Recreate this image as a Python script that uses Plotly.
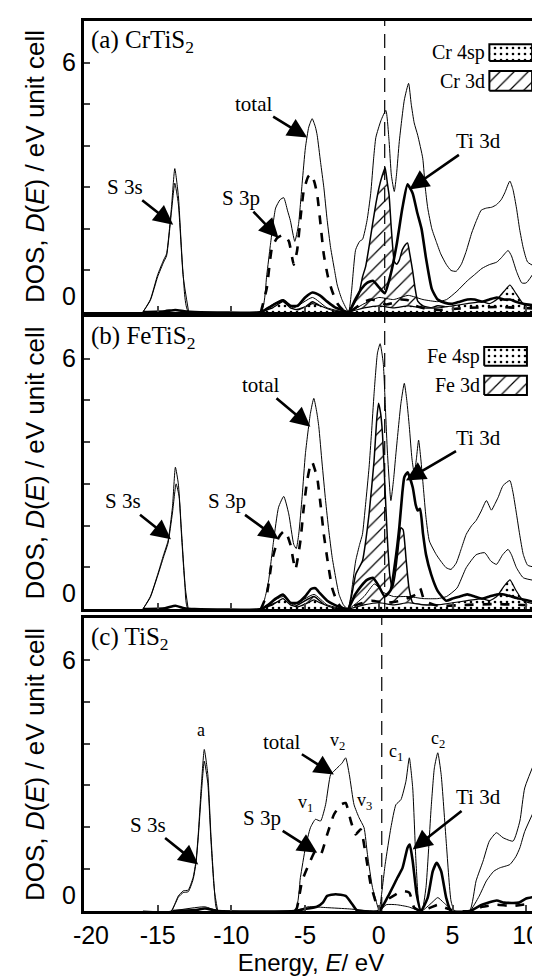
import plotly.graph_objects as go
from plotly.subplots import make_subplots

# ---------------- data (energy in eV, DOS in states / eV unit cell) ----------------
X_RANGE = [-20, 10.8]
Y_RANGE = [0, 7]
X_TICKS = [-20, -15, -10, -5, 0, 5, 10]
X_TICK_TEXT = ["&nbsp;&nbsp;-20", "-15", "-10", "-5", "0", "5", "10"]
Y_TICKS = [0, 1, 2, 3, 4, 5, 6]
Y_TICK_TEXT = ["0<br> ", "", "", "", "", "", "6"]
E_FERMI = [0.4, 0.4, 0.2]
PANEL_TITLES = ["(a) CrTiS<sub>2</sub>", "(b) FeTiS<sub>2</sub>", "(c) TiS<sub>2</sub>"]
METALS = ["Cr", "Fe", None]

# ---- (a) CrTiS2 ----
a_total = [(-16.0, 0), (-15.5, 0.3), (-15.0, 0.9), (-14.6, 1.25), (-14.4, 1.4), (-14.07, 2.5), (-13.84, 3.45),
           (-13.6, 2.8), (-13.27, 0.9), (-12.9, 0), (-8.0, 0), (-7.6, 0.9), (-7.36, 1.6), (-7.0, 2.5), (-6.7, 2.7),
           (-6.45, 2.75), (-6.2, 2.45), (-6.0, 2.2), (-5.7, 1.7), (-5.45, 2.1), (-5.2, 3.1), (-4.98, 3.95),
           (-4.75, 4.45), (-4.52, 4.65), (-4.3, 4.45), (-4.18, 4.25), (-3.95, 3.6), (-3.73, 3.0), (-3.5, 2.2),
           (-3.27, 1.55), (-3.0, 1.0), (-2.82, 0.65), (-2.5, 0.3), (-2.05, 0), (-1.85, 0.5), (-1.57, 1.5),
           (-1.3, 1.7), (-1.1, 1.75), (-0.8, 2.2), (-0.55, 2.85), (-0.35, 3.7), (-0.2, 4.2), (0.14, 4.6),
           (0.48, 4.85), (0.7, 4.1), (0.85, 3.3), (1.05, 2.9), (1.2, 3.3), (1.39, 4.1), (1.73, 5.1), (2.02, 5.5),
           (2.2, 5.0), (2.4, 4.55), (2.64, 4.25), (2.98, 3.7), (3.15, 3.0), (3.32, 2.5), (3.6, 2.0), (3.89, 1.7),
           (4.2, 1.4), (4.57, 1.15), (4.9, 1.0), (5.25, 0.98), (5.6, 1.15), (5.93, 1.46), (6.3, 1.9), (6.6, 2.18),
           (6.95, 2.45), (7.3, 2.5), (7.65, 2.52), (7.98, 2.58), (8.3, 2.7), (8.55, 2.87), (8.89, 3.15),
           (9.1, 2.95), (9.34, 2.5), (9.55, 2.0), (9.8, 1.54), (10.1, 1.2), (10.8, 1.06)]
a_s3s = [(-16.0, 0), (-15.5, 0.28), (-15.0, 0.85), (-14.6, 1.2), (-14.4, 1.35), (-14.07, 2.4), (-13.84, 3.1),
         (-13.6, 2.6), (-13.27, 0.85), (-12.9, 0)]
a_s3p = [(-8.0, 0), (-7.6, 0.58), (-7.25, 1.54), (-6.9, 1.78), (-6.45, 1.86), (-6.1, 1.7), (-5.77, 1.14),
         (-5.55, 1.46), (-5.3, 2.3), (-5.1, 2.9), (-4.8, 3.25), (-4.57, 3.32), (-4.35, 3.1), (-4.18, 2.83),
         (-3.95, 2.1), (-3.73, 1.38), (-3.45, 0.85), (-3.16, 0.5), (-2.8, 0.2), (-2.4, 0.04), (-2.05, 0),
         (-1.5, 0.12), (-1.0, 0.25), (-0.5, 0.3), (0.0, 0.25), (0.5, 0.18), (1.0, 0.22), (1.5, 0.3), (2.0, 0.28),
         (2.5, 0.15), (3.0, 0.1), (4.0, 0.05), (6.0, 0.1), (8.0, 0.12), (10.8, 0.08)]
a_ti3d = [(-16.0, 0), (-14.5, 0.02), (-13.8, 0.05), (-13.2, 0.02), (-12.5, 0), (-8.0, 0), (-7.5, 0.1), (-7.0, 0.2),
          (-6.5, 0.28), (-6.0, 0.15), (-5.5, 0.15), (-5.0, 0.35), (-4.5, 0.47), (-4.0, 0.4), (-3.5, 0.25),
          (-3.0, 0.12), (-2.5, 0.05), (-2.05, 0), (-1.6, 0.3), (-1.2, 0.55), (-0.8, 0.7), (-0.4, 0.75), (0.0, 0.6),
          (0.4, 0.45), (0.8, 0.9), (1.2, 1.6), (1.6, 2.5), (1.95, 3.07), (2.3, 2.85), (2.6, 2.4), (2.9, 2.0),
          (3.2, 1.3), (3.6, 0.55), (4.0, 0.3), (4.5, 0.22), (5.0, 0.2), (5.5, 0.25), (6.0, 0.3), (6.5, 0.3),
          (7.0, 0.25), (7.5, 0.3), (8.0, 0.35), (8.5, 0.3), (8.9, 0.3), (9.3, 0.25), (9.8, 0.2), (10.8, 0.15)]
a_m3d = [(-8.0, 0), (-7.2, 0.08), (-6.5, 0.2), (-5.8, 0.05), (-5.0, 0.12), (-4.5, 0.25), (-3.5, 0.05), (-2.05, 0),
         (-1.6, 0.25), (-1.34, 0.45), (-1.1, 0.85), (-0.89, 1.1), (-0.65, 1.6), (-0.43, 2.1), (-0.2, 2.6),
         (0.02, 3.0), (0.25, 3.3), (0.43, 3.47), (0.58, 3.1), (0.7, 2.8), (0.85, 2.0), (1.05, 1.22), (1.2, 1.15),
         (1.39, 1.25), (1.6, 1.5), (1.8, 1.62), (1.95, 1.66), (2.1, 1.4), (2.3, 0.98), (2.45, 0.6), (2.64, 0.26),
         (3.0, 0.15), (3.5, 0.1), (4.0, 0.15), (5.0, 0.1), (6.0, 0.15), (7.0, 0.2), (8.0, 0.15), (9.0, 0.15),
         (10.8, 0.1)]
a_m4sp = [(-8.0, 0), (-7.2, 0.1), (-6.5, 0.25), (-6.0, 0.1), (-5.5, 0.05), (-4.8, 0.15), (-4.5, 0.2), (-4.0, 0.15),
          (-3.0, 0.02), (-2.05, 0), (-1.0, 0.1), (0.0, 0.15), (1.0, 0.1), (2.0, 0.15), (3.0, 0.1), (4.0, 0.1),
          (5.0, 0.15), (6.0, 0.2), (7.0, 0.25), (7.5, 0.2), (8.0, 0.3), (8.5, 0.5), (8.9, 0.65), (9.3, 0.45),
          (9.8, 0.2), (10.8, 0.1)]
a_other = [(-8.0, 0), (-6.5, 0.3), (-5.8, 0.1), (-4.5, 0.35), (-3.5, 0.1), (-2.05, 0), (-1.0, 0.2), (0.0, 0.35),
           (1.0, 0.3), (2.0, 0.4), (3.0, 0.3), (4.0, 0.25), (4.6, 0.3), (5.3, 0.5), (6.0, 0.75), (6.5, 0.9),
           (7.0, 1.05), (7.5, 1.14), (8.0, 1.2), (8.3, 1.3), (8.77, 1.48), (9.0, 1.35), (9.34, 0.98), (9.7, 0.7),
           (10.0, 0.7), (10.8, 1.1)]

# ---- (b) FeTiS2 ----
b_total = [(-16.0, 0), (-15.5, 0.3), (-15.0, 0.83), (-14.6, 1.3), (-14.3, 1.63), (-14.0, 2.44), (-13.8, 3.4),
           (-13.6, 3.0), (-13.4, 1.95), (-13.16, 0.67), (-12.93, 0), (-8.0, 0), (-7.7, 0.3), (-7.48, 0.67),
           (-7.14, 1.63), (-6.8, 2.44), (-6.45, 2.7), (-6.11, 2.28), (-5.77, 1.55), (-5.6, 1.45), (-5.43, 1.8),
           (-5.2, 2.7), (-4.98, 3.72), (-4.64, 4.69), (-4.41, 5.05), (-4.2, 4.7), (-4.07, 4.37), (-3.85, 3.5),
           (-3.61, 2.6), (-3.4, 1.9), (-3.16, 1.23), (-2.9, 0.7), (-2.7, 0.35), (-2.4, 0.1), (-2.1, 0),
           (-1.9, 0.3), (-1.57, 1.15), (-1.3, 1.55), (-1.11, 1.79), (-0.9, 2.5), (-0.66, 3.4), (-0.5, 4.2),
           (-0.32, 5.17), (-0.09, 6.14), (0.09, 6.36), (0.3, 5.9), (0.45, 4.8), (0.59, 3.72), (0.82, 2.6),
           (1.0, 3.1), (1.16, 3.72), (1.5, 4.93), (1.73, 5.41), (1.9, 5.0), (2.07, 4.37), (2.25, 3.6), (2.41, 3.24),
           (2.55, 3.6), (2.7, 4.05), (2.85, 3.6), (3.02, 2.92), (3.2, 2.2), (3.43, 1.63), (3.89, 1.31), (4.2, 1.15),
           (4.57, 0.99), (4.9, 0.95), (5.25, 1.1), (5.6, 1.45), (5.93, 1.79), (6.3, 2.0), (6.6, 2.12), (6.95, 2.35),
           (7.3, 2.6), (7.64, 2.37), (7.85, 2.5), (8.1, 2.68), (8.43, 2.96), (8.89, 3.08), (9.1, 2.8), (9.34, 2.28),
           (9.55, 1.8), (9.8, 1.31), (10.1, 1.05), (10.8, 0.99)]
b_s3s = [(-16.0, 0), (-15.5, 0.28), (-15.0, 0.8), (-14.6, 1.25), (-14.3, 1.58), (-14.0, 2.3), (-13.75, 3.0),
         (-13.55, 2.7), (-13.4, 1.85), (-13.16, 0.6), (-12.93, 0)]
b_s3p = [(-8.0, 0), (-7.6, 0.35), (-7.25, 1.15), (-6.8, 1.71), (-6.5, 1.85), (-6.34, 1.87), (-6.0, 1.55),
         (-5.66, 0.95), (-5.32, 1.63), (-5.1, 2.4), (-4.86, 3.08), (-4.6, 3.5), (-4.52, 3.52), (-4.3, 3.3),
         (-4.18, 3.16), (-3.95, 2.5), (-3.73, 1.79), (-3.45, 1.1), (-3.16, 0.5), (-2.8, 0.15), (-2.48, 0.02),
         (-2.1, 0), (-1.5, 0.1), (-0.5, 0.2), (0.5, 0.15), (1.5, 0.2), (2.5, 0.35), (2.8, 0.5), (3.1, 0.2),
         (4.0, 0.08), (6.0, 0.1), (8.0, 0.12), (10.8, 0.08)]
b_ti3d = [(-16.0, 0), (-14.5, 0.02), (-13.8, 0.08), (-13.2, 0.02), (-12.5, 0), (-8.0, 0), (-7.5, 0.1), (-7.0, 0.25),
          (-6.5, 0.35), (-6.0, 0.15), (-5.5, 0.15), (-5.0, 0.3), (-4.6, 0.48), (-4.3, 0.5), (-4.0, 0.38),
          (-3.5, 0.2), (-3.0, 0.1), (-2.5, 0.03), (-2.1, 0), (-1.6, 0.35), (-1.2, 0.55), (-0.8, 0.7), (-0.4, 0.75),
          (0.0, 0.55), (0.4, 0.3), (0.8, 0.45), (1.1, 1.1), (1.39, 1.95), (1.6, 2.8), (1.73, 3.16), (1.95, 3.28),
          (2.3, 2.92), (2.5, 2.5), (2.64, 2.36), (2.8, 2.4), (3.0, 1.8), (3.2, 1.31), (3.55, 0.83), (4.0, 0.43),
          (4.57, 0.2), (5.0, 0.25), (5.5, 0.3), (6.0, 0.35), (6.5, 0.3), (7.0, 0.25), (7.5, 0.3), (8.0, 0.35),
          (8.5, 0.35), (9.0, 0.3), (9.5, 0.25), (10.8, 0.15)]
b_m3d = [(-8.0, 0), (-6.5, 0.2), (-5.8, 0.05), (-4.4, 0.3), (-3.5, 0.05), (-2.1, 0), (-1.8, 0.4), (-1.57, 0.83),
         (-1.11, 1.15), (-0.9, 1.6), (-0.66, 2.28), (-0.32, 3.56), (-0.15, 4.5), (-0.02, 4.93), (0.12, 4.7),
         (0.25, 4.2), (0.42, 2.9), (0.59, 1.63), (0.75, 0.8), (0.93, 0.5), (1.1, 0.8), (1.3, 1.4), (1.5, 1.95),
         (1.65, 1.9), (1.85, 1.2), (2.05, 0.5), (2.3, 0.15), (3.0, 0.1), (4.0, 0.1), (5.0, 0.12), (6.0, 0.15),
         (7.0, 0.15), (8.0, 0.12), (9.0, 0.15), (10.8, 0.1)]
b_m4sp = [(-8.0, 0), (-7.2, 0.1), (-6.5, 0.25), (-6.0, 0.1), (-5.5, 0.05), (-4.8, 0.15), (-4.4, 0.22), (-4.0, 0.15),
          (-3.0, 0.02), (-2.1, 0), (-1.0, 0.1), (0.0, 0.15), (1.0, 0.1), (2.0, 0.15), (3.0, 0.1), (4.0, 0.1),
          (5.0, 0.15), (6.0, 0.2), (7.0, 0.25), (7.5, 0.2), (8.0, 0.3), (8.5, 0.55), (8.9, 0.7), (9.3, 0.45),
          (9.8, 0.2), (10.8, 0.1)]
b_other = [(-8.0, 0), (-6.5, 0.3), (-5.8, 0.1), (-4.4, 0.35), (-3.5, 0.1), (-2.1, 0), (-1.0, 0.3), (-0.3, 0.6),
           (0.3, 0.4), (1.0, 0.3), (2.0, 0.3), (3.0, 0.25), (4.0, 0.25), (4.6, 0.3), (5.3, 0.5), (5.93, 0.99),
           (6.6, 1.3), (7.18, 1.35), (7.6, 1.15), (7.98, 1.07), (8.4, 1.3), (8.77, 1.43), (9.0, 1.3), (9.34, 0.99),
           (9.8, 0.75), (10.8, 0.67)]

# ---- (c) TiS2 ----
c_total = [(-16.0, 0), (-14.07, 0), (-13.8, 0.2), (-13.6, 0.36), (-13.27, 0.48), (-12.93, 0.5), (-12.6, 0.8),
           (-12.4, 1.2), (-12.25, 1.83), (-12.02, 3.1), (-11.84, 3.86), (-11.6, 3.26), (-11.39, 1.83),
           (-11.16, 0.56), (-10.93, 0), (-5.7, 0), (-5.32, 0.8), (-4.98, 1.51), (-4.64, 1.99), (-4.3, 2.19),
           (-3.95, 2.15), (-3.61, 2.54), (-3.27, 3.26), (-3.05, 3.34), (-2.7, 3.46), (-2.48, 3.54), (-2.25, 3.66),
           (-2.0, 3.26), (-1.68, 2.54), (-1.34, 2.23), (-1.0, 1.99), (-0.77, 1.35), (-0.43, 0.56), (-0.09, 0.12),
           (0.02, 0), (0.43, 1.11), (0.82, 1.99), (1.16, 2.54), (1.5, 2.66), (1.84, 3.1), (2.07, 3.66), (2.3, 2.94),
           (2.52, 1.19), (2.75, 0.08), (2.93, 0), (3.2, 0.56), (3.55, 2.46), (3.77, 3.42), (4.0, 3.78), (4.23, 3.26),
           (4.57, 1.67), (4.9, 0.24), (5.14, 0), (6.16, 0), (6.6, 0.72), (7.07, 1.19), (7.5, 1.67), (7.98, 1.87),
           (8.43, 1.75), (9.11, 1.67), (9.57, 2.15), (9.9, 2.94), (10.8, 3.75)]
c_s3s = [(-14.07, 0), (-13.8, 0.18), (-13.6, 0.33), (-13.27, 0.44), (-12.93, 0.46), (-12.6, 0.75), (-12.4, 1.15),
         (-12.25, 1.75), (-12.02, 2.9), (-11.84, 3.58), (-11.6, 3.05), (-11.39, 1.7), (-11.16, 0.5), (-10.93, 0)]
c_s3p = [(-5.7, 0), (-5.55, 0.08), (-5.2, 0.72), (-4.75, 1.11), (-4.3, 1.43), (-3.95, 1.35), (-3.5, 1.83),
         (-3.05, 2.3), (-2.59, 2.54), (-2.25, 2.58), (-1.9, 2.15), (-1.57, 1.83), (-1.23, 1.95), (-0.89, 1.35),
         (-0.55, 0.64), (-0.09, 0.08), (0.02, 0), (0.5, 0.25), (1.16, 0.4), (1.6, 0.48), (2.07, 0.44), (2.4, 0.08),
         (2.9, 0), (3.5, 0.08), (4.0, 0.15), (4.5, 0.08), (5.1, 0), (6.2, 0), (7.0, 0.1), (8.0, 0.15), (9.0, 0.12),
         (10.8, 0.2)]
c_ti3d = [(-14.0, 0), (-12.5, 0.02), (-11.8, 0.06), (-11.2, 0.02), (-10.9, 0), (-5.7, 0), (-5.0, 0.05), (-4.2, 0.1),
          (-3.8, 0.2), (-3.5, 0.36), (-2.93, 0.4), (-2.25, 0.36), (-1.8, 0.16), (-1.5, 0.02), (0.02, 0), (0.7, 0.4),
          (1.27, 0.8), (1.61, 1.03), (1.95, 1.51), (2.1, 1.59), (2.3, 1.19), (2.57, 0.4), (2.86, 0), (3.32, 0.32),
          (3.66, 0.95), (3.93, 1.15), (4.23, 0.95), (4.57, 0.32), (4.9, 0), (6.2, 0), (7.0, 0.15), (8.0, 0.25),
          (8.5, 0.2), (9.5, 0.2), (10.0, 0.3), (10.8, 0.35)]
c_other = [(-14.0, 0), (-11.8, 0.1), (-10.9, 0), (-5.7, 0), (-4.8, 0.1), (-3.5, 0.08), (-2.0, 0.05), (0.02, 0),
           (0.5, 0.15), (1.2, 0.15), (2.0, 0.1), (2.9, 0), (3.6, 0.2), (4.0, 0.32), (4.4, 0.2), (5.1, 0), (6.16, 0),
           (6.8, 0.35), (7.3, 0.72), (7.8, 0.95), (8.2, 1.03), (8.89, 1.11), (9.3, 1.3), (9.57, 1.51), (9.9, 1.9),
           (10.8, 2.6)]

PANELS = [
    dict(total=a_total, s3s=a_s3s, s3p=a_s3p, ti3d=a_ti3d, m3d=a_m3d, m4sp=a_m4sp, other=a_other),
    dict(total=b_total, s3s=b_s3s, s3p=b_s3p, ti3d=b_ti3d, m3d=b_m3d, m4sp=b_m4sp, other=b_other),
    dict(total=c_total, s3s=c_s3s, s3p=c_s3p, ti3d=c_ti3d, m3d=None, m4sp=None, other=c_other),
]

# arrow labels: (text, tip E, tip D, dx px, dy px)
ARROWS = [
    [("S 3s", -13.95, 2.1, -48, -38), ("S 3p", -6.8, 1.78, -38, -40), ("total", -4.86, 4.2, -54, -33),
     ("Ti 3d", 2.07, 2.95, 69, -48)],
    [("S 3s", -14.1, 1.67, -48, -38), ("S 3p", -6.8, 1.67, -52, -38), ("total", -4.64, 4.37, -50, -42),
     ("Ti 3d", 1.84, 3.08, 73, -43)],
    [("S 3s", -12.25, 1.11, -50, -40), ("S 3p", -4.18, 1.39, -55, -35), ("total", -3.05, 3.26, -52, -33),
     ("Ti 3d", 2.3, 1.47, 66, -52)],
]
PEAK_LABELS = [("a", -12.07, 4.33), ("v<sub>1</sub>", -4.98, 2.58), ("v<sub>2</sub>", -2.82, 4.05),
               ("v<sub>3</sub>", -1.0, 2.62), ("c<sub>1</sub>", 1.16, 3.78), ("c<sub>2</sub>", 4.0, 4.09)]

# ---------------- figure ----------------
SANS = "Liberation Sans, Arial, sans-serif"
SERIF = "Liberation Serif, Times New Roman, serif"
HATCH = dict(shape="/", size=10, solidity=0.12, fgcolor="black", bgcolor="white", fgopacity=1)
DOTS = dict(shape=".", size=6, solidity=0.15, fgcolor="black", bgcolor="white", fgopacity=1)

fig = make_subplots(rows=3, cols=1)
DOMAINS = [[0.673, 1.0], [0.3393, 0.6674], [0.0, 0.3292]]


def xy(pairs):
    return [p[0] for p in pairs], [p[1] for p in pairs]


for i, pdat in enumerate(PANELS):
    r = i + 1
    if pdat["m3d"] is not None:
        x, y = xy(pdat["m3d"])
        fig.add_trace(go.Scatter(x=x, y=y, mode="lines", name=f"{METALS[i]} 3d", fill="tozeroy",
                                 fillpattern=HATCH, line=dict(color="black", width=1.5, shape="spline", smoothing=0.5),
                                 showlegend=False), row=r, col=1)
        x, y = xy(pdat["m4sp"])
        fig.add_trace(go.Scatter(x=x, y=y, mode="lines", name=f"{METALS[i]} 4sp", fill="tozeroy",
                                 fillpattern=DOTS, line=dict(color="black", width=1.2, shape="spline", smoothing=0.5),
                                 showlegend=False), row=r, col=1)
    for key, width, dash in [("other", 1.0, "solid"), ("s3s", 1.0, "solid"), ("total", 1.0, "solid"),
                             ("s3p", 2.6, "dash"), ("ti3d", 2.6, "solid")]:
        x, y = xy(pdat[key])
        fig.add_trace(go.Scatter(x=x, y=y, mode="lines", name=key,
                                 line=dict(color="black", width=width, dash=dash, shape="spline", smoothing=0.5),
                                 showlegend=False), row=r, col=1)

    xa = "xaxis" if r == 1 else f"xaxis{r}"
    ya = "yaxis" if r == 1 else f"yaxis{r}"
    fig.layout[xa].update(range=X_RANGE, tickvals=X_TICKS, ticktext=X_TICK_TEXT, ticks="inside", ticklen=6,
                          tickwidth=1.5, showline=True, linewidth=3, linecolor="black", mirror=True, showgrid=False,
                          zeroline=False, showticklabels=(r == 3), tickfont=dict(family=SANS, size=25, color="black"),
                          domain=[0, 1], automargin=False, ticklabeloverflow="allow")
    fig.layout[ya].update(range=Y_RANGE, tickvals=Y_TICKS, ticktext=Y_TICK_TEXT, ticks="inside", ticklen=6,
                          tickwidth=1.5, showline=True, linewidth=3, linecolor="black", mirror=True,
                          showgrid=False, zeroline=False, tickfont=dict(family=SANS, size=25, color="black"),
                          domain=DOMAINS[i], automargin=False,
                          title=dict(text="DOS, <i>D</i>(<i>E</i>) / eV unit cell",
                                     font=dict(family=SANS, size=26, color="black"), standoff=10))
    fig.add_vline(x=E_FERMI[i], line=dict(color="black", width=1.2, dash="14px,8px"), layer="above", row=r, col=1)

    xr = "x" if r == 1 else f"x{r}"
    yr = "y" if r == 1 else f"y{r}"
    fig.add_annotation(text=PANEL_TITLES[i], xref=f"{xr} domain", yref=f"{yr} domain", x=0.012, y=0.99,
                       xanchor="left", yanchor="top", showarrow=False, font=dict(family=SERIF, size=25, color="black"))
    for (txt, ex, ey, dx, dy) in ARROWS[i]:
        fig.add_annotation(text=txt, x=ex, y=ey, xref=xr, yref=yr, ax=dx, ay=dy, showarrow=True, arrowhead=2,
                           arrowsize=1.5, arrowwidth=2.6, arrowcolor="black", standoff=0,
                           font=dict(family=SERIF, size=21, color="black"))

# legend keys for panels (a) and (b)
KEY_X = [[7.5, 10.4], [7.15, 10.05]]
KEY_Y = [[[6.04, 6.44], [5.32, 5.80]], [[5.83, 6.28], [5.13, 5.59]]]
for i in range(2):
    r = i + 1
    xr = "x" if r == 1 else f"x{r}"
    yr = "y" if r == 1 else f"y{r}"
    for j, (label, pat) in enumerate([(f"{METALS[i]} 4sp", DOTS), (f"{METALS[i]} 3d", HATCH)]):
        x0, x1 = KEY_X[i]
        y0, y1 = KEY_Y[i][j]
        fig.add_trace(go.Scatter(x=[x0, x1, x1, x0, x0], y=[y0, y0, y1, y1, y0], mode="lines", fill="toself",
                                 fillpattern=pat, line=dict(color="black", width=2), showlegend=False,
                                 hoverinfo="skip"), row=r, col=1)
        fig.add_annotation(text=label, x=x0 - 0.15, y=(y0 + y1) / 2, xref=xr, yref=yr, xanchor="right",
                           showarrow=False, font=dict(family=SERIF, size=20, color="black"))

for (txt, ex, ey) in PEAK_LABELS:
    fig.add_annotation(text=txt, x=ex, y=ey, xref="x3", yref="y3", showarrow=False,
                       font=dict(family=SERIF, size=18, color="black"))

fig.update_xaxes(title=dict(text="Energy, <i>E</i>/ eV", font=dict(family=SANS, size=24, color="black"), standoff=4),
                 row=3, col=1)

fig.update_layout(width=540, height=978, margin=dict(l=76, r=10, t=13, b=75), plot_bgcolor="white",
                  paper_bgcolor="white", showlegend=False)

fig.write_html("out.html")
